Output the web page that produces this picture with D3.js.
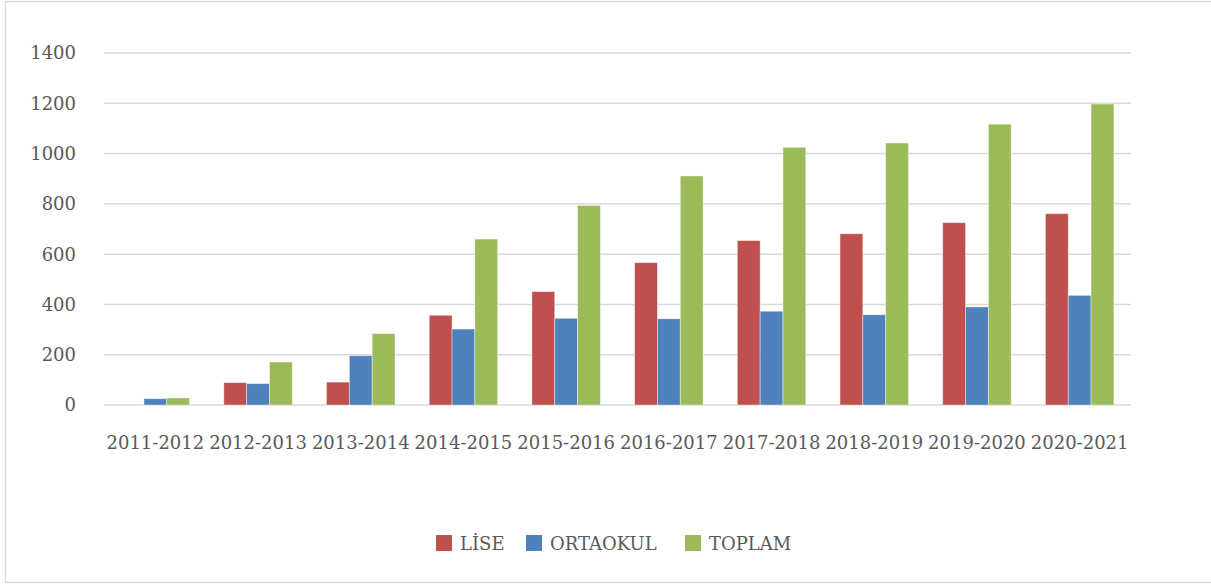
<!DOCTYPE html>
<html>
<head>
  <meta charset="utf-8">
  <title>bar chart</title>
  <script src="https://cdn.jsdelivr.net/npm/d3@7/dist/d3.min.js"></script>
  <style>
    body { margin: 0; background: #fff; }
    text { font-family: "DejaVu Serif", serif; fill: #595959; }
  </style>
</head>
<body>
  <svg width="1211" height="584"></svg>
  <script>
    // data
    var years = ["2011-2012", "2012-2013", "2013-2014", "2014-2015", "2015-2016",
                 "2016-2017", "2017-2018", "2018-2019", "2019-2020", "2020-2021"];
    var lise     = [0, 89, 91, 357, 451, 566, 654, 681, 725, 761];
    var ortaokul = [25, 85, 196, 302, 345, 343, 373, 359, 390, 436];
    var toplam   = [28, 171, 284, 660, 794, 911, 1025, 1042, 1117, 1197];
    var seriesNames = ["LİSE", "ORTAOKUL", "TOPLAM"];
    var colors = ["#C0504D", "#4F81BD", "#9BBB59"];
    var yTicks = [0, 200, 400, 600, 800, 1000, 1200, 1400];

    var svg = d3.select("svg");
    var margin = { top: 53, left: 104, right: 80, bottom: 179 };
    var fontSize = "18px";

    // outer frame
    svg.append("rect")
      .attr("x", 5.5).attr("y", 1.5)
      .attr("width", 1215).attr("height", 581)
      .attr("fill", "none")
      .attr("stroke", "#d9d9d9")
      .attr("stroke-width", 1.5);

    var x = d3.scaleBand()
      .domain(years)
      .range([margin.left, 1131])
      .paddingInner(1 / 3)
      .paddingOuter(1 / 6);

    var x1 = d3.scaleBand()
      .domain(seriesNames)
      .range([0, x.bandwidth()]);

    var y = d3.scaleLinear()
      .domain([0, 1400])
      .range([405, 53]);

    // gridlines
    svg.append("g")
      .selectAll("line")
      .data(yTicks)
      .enter()
      .append("line")
      .attr("x1", margin.left)
      .attr("x2", 1131)
      .attr("y1", function (d) { return y(d); })
      .attr("y2", function (d) { return y(d); })
      .attr("stroke", "#d9d9d9")
      .attr("stroke-width", 1.5);

    // y labels
    svg.append("g")
      .selectAll("text")
      .data(yTicks)
      .enter()
      .append("text")
      .attr("x", 76)
      .attr("y", function (d) { return y(d); })
      .attr("dy", "0.36em")
      .attr("text-anchor", "end")
      .style("font-size", fontSize)
      .text(function (d) { return d; });

    // bars
    var table = years.map(function (yr, i) {
      return { year: yr, values: [lise[i], ortaokul[i], toplam[i]] };
    });

    var groups = svg.append("g")
      .selectAll("g")
      .data(table)
      .enter()
      .append("g")
      .attr("transform", function (d) { return "translate(" + x(d.year) + ",0)"; });

    groups.selectAll("rect")
      .data(function (d) {
        return d.values.map(function (v, j) { return { name: seriesNames[j], value: v, c: colors[j] }; });
      })
      .enter()
      .append("rect")
      .filter(function (d) { return d.value > 0; })
      .attr("x", function (d) { return x1(d.name); })
      .attr("width", x1.bandwidth())
      .attr("y", function (d) { return y(d.value); })
      .attr("height", function (d) { return y(0) - y(d.value); })
      .attr("fill", function (d) { return d.c; })
      .attr("stroke", "rgba(255,255,255,0.5)")
      .attr("stroke-width", 0.8);

    // x labels
    svg.append("g")
      .selectAll("text")
      .data(years)
      .enter()
      .append("text")
      .attr("x", function (d) { return x(d) + x.bandwidth() / 2; })
      .attr("y", 449)
      .attr("text-anchor", "middle")
      .style("font-size", fontSize)
      .text(function (d) { return d; });

    // legend
    var legendX = [436, 526, 685];
    var legend = svg.append("g")
      .selectAll("g")
      .data(seriesNames)
      .enter()
      .append("g")
      .attr("transform", function (d, i) { return "translate(" + legendX[i] + ",535)"; });

    legend.append("rect")
      .attr("width", 16)
      .attr("height", 16)
      .attr("fill", function (d, i) { return colors[i]; });

    legend.append("text")
      .attr("x", 24)
      .attr("y", 15)
      .style("font-size", fontSize)
      .text(function (d) { return d; });
  </script>
</body>
</html>
